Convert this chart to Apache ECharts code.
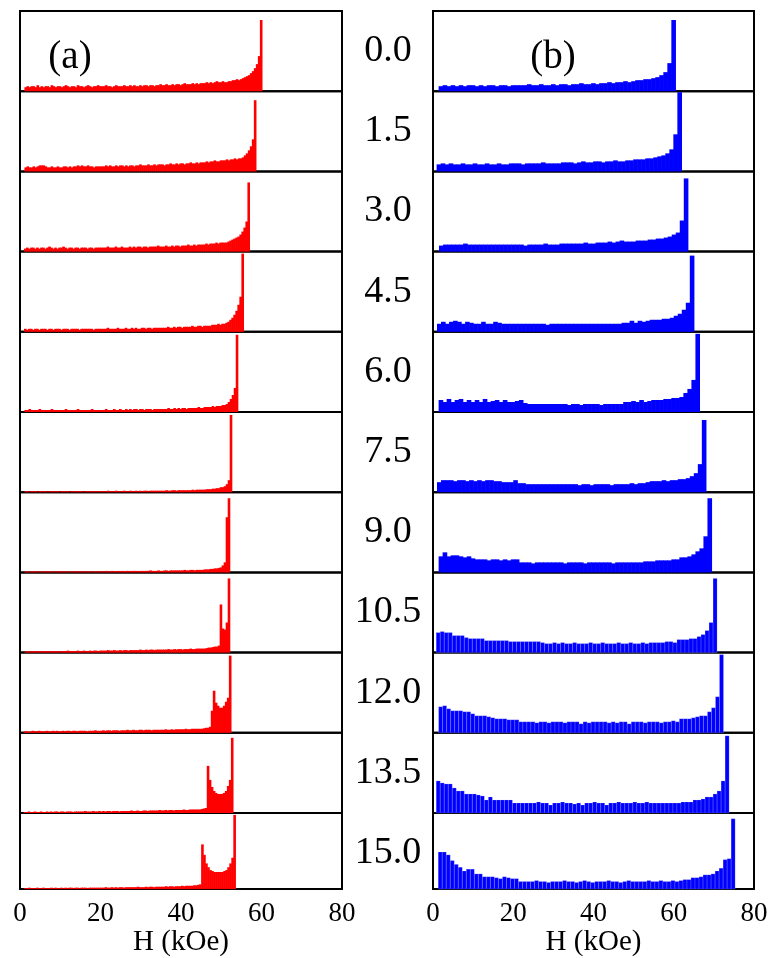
<!DOCTYPE html>
<html>
<head>
<meta charset="utf-8">
<script src="https://cdn.jsdelivr.net/npm/echarts@6.0.0/dist/echarts.min.js"></script>
<style>
  html, body { margin: 0; padding: 0; background: #fff; }
  #chart { width: 771px; height: 958px; }
</style>
</head>
<body>
<div id="chart"></div>
<script>
// field labels shown between the two columns
var fieldLabels = ['0.0', '1.5', '3.0', '4.5', '6.0', '7.5', '9.0', '10.5', '12.0', '13.5', '15.0'];
var xTicks = [0, 20, 40, 60, 80];

// histogram bin widths (kOe) and right edge of the last bin of every panel
var redBin = 0.5;
var blueBin = 1.0;
var redEdge = [60.1, 58.6, 57.0, 55.5, 54.1, 52.6, 52.1, 52.1, 52.4, 52.9, 53.5];
var blueEdge = [60.4, 61.9, 63.5, 65.0, 66.4, 68.0, 69.4, 70.8, 72.4, 73.8, 75.3];

// (a) red histograms, heights (panel full scale = 80)
var red00 = [4,5,4,5,5,4,6,4,5,4,5,5,4,6,5,4,5,5,4,5,6,5,4,5,5,4,6,5,5,4,5,6,5,4,5,5,6,5,
  5,5,6,5,5,4,5,6,5,5,5,6,5,5,6,5,6,5,5,6,5,6,6,5,6,6,5,6,6,7,
  6,6,7,6,6,7,6,7,7,6,7,8,7,7,7,8,7,8,7,8,
  8,8,9,8,9,8,9,10,9,9,10,9,9,10,
  10,11,11,12,11,12, 13,14,15,16, 18,20, 23,27, 35,71];
var red15 = [4,5,4,4,5,4,5,6,6,6,5,4,4,5,4,4,5,4,4,5,5,4,5,4,5,5,6,5,6,5,5,6,5,5,4,5,5,5,
  5,5,6,5,6,5,5,6,5,6,6,5,6,5,6,6,5,6,6,7,6,6,6,7,6,6,7,6,7,7,
  7,6,7,7,8,7,7,8,7,8,8,7,8,8,9,8,8,9,8,9,
  9,9,10,9,10,10,11,10,10,11,11,11,12,11,
  12,12,13,12,13,13, 14,16,18,21, 25,32, 71];
var red30 = [3,4,3,4,4,3,4,3,4,4,3,4,5,4,3,4,3,4,4,5,4,3,4,4,3,4,4,3,4,4,4,3,4,4,3,4,4,4,
  4,4,4,5,4,4,4,5,4,4,5,4,4,4,5,4,5,4,5,5,4,5,5,4,5,5,5,5,6,5,
  5,5,6,5,5,6,5,6,6,5,6,6,6,7,6,6,7,6,7,7,
  7,7,8,7,8,8,8,9,8,9,9,9,
  9,10,11,12,13,14, 15,17,20,24, 30, 69];
var red45 = [3,2,3,3,2,3,3,2,3,3,3,2,3,3,2,3,3,3,2,3,3,3,2,3,3,3,3,2,3,3,3,3,3,3,2,3,3,3,
  3,3,3,4,3,3,3,3,4,3,3,3,4,3,3,4,3,4,3,3,4,4,3,4,4,3,4,4,4,4,
  4,4,4,5,4,4,5,4,5,5,4,5,5,5,5,6,5,5,6,6,
  5,6,6,6,6,7,7,7,8,7,8,8,
  9,10,12,14, 17,21,27, 35, 78];
var red60 = [2,2,3,2,2,2,2,3,2,2,2,2,2,3,2,2,2,2,2,2,3,2,2,2,2,2,3,2,2,2,2,2,2,3,2,2,2,2,
  2,2,3,2,2,2,3,2,2,3,2,2,3,2,3,2,3,3,2,3,3,2,3,3,3,2,3,3,3,3,
  3,3,3,4,3,3,4,3,4,3,4,4,3,4,4,4,4,4,5,4,
  4,5,5,5,5,6,5,6,6,6,7,7,
  8,10,13,17, 24, 77];
var red75 = [1,1,0.5,1,1,1,0.5,1,1,1,1,0.5,1,1,1,1,1,0.5,1,1,1,1,0.5,1,1,1,1,1,1,0.5,1,1,1,1,1,1,1,1,
  1,1,1,1.5,1,1,1,1.5,1,1,1,1.5,1,1,1.5,1,1,1.5,1,1.5,1,1.5,1.5,1,1.5,1.5,1.5,1.5,1.5,1.5,
  1.5,1.5,2,1.5,1.5,2,2,1.5,2,2,2,2,2,2,2,2.5,2,2.5,2.5,2.5,
  2.5,2.5,3,3,3,3.5,3.5,4,4,5,5,6,
  8,12, 77];
var red90 = [1,1,0.5,1,1,1,1,0.5,1,1,1,1,1,1,0.5,1,1,1,1,1,1,1,0.5,1,1,1,1,1,1,1,1,1,1,0.5,1,1,1,1,
  1,1,1.5,1,1,1.5,1,1,1.5,1,1.5,1,1.5,1.5,1,1.5,1.5,1.5,1,1.5,1.5,1.5,1.5,1.5,2,1.5,1.5,1.5,2,1.5,
  1.5,2,2,1.5,2,2,2,2,2,2,2,2.5,2,2,2.5,2.5,2,2.5,2.5,2.5,
  2.5,3,3,3,3.5,3.5,4,4,4.5,5,
  7,10, 55, 74];
var red105 = [1,1.5,1,1.5,1.5,1,1.5,1.5,1,1.5,1.5,1.5,1,1.5,1.5,1.5,1.5,1,1.5,1.5,1.5,2,1.5,1.5,1.5,1.5,2,1.5,1.5,2,1.5,1.5,2,1.5,2,2,1.5,2,
  2,2,2,2.5,2,2,2.5,2,2,2.5,2,2.5,2.5,2,2.5,2.5,2.5,2.5,2.5,3,2.5,2.5,3,2.5,3,3,2.5,3,3,3,
  3,3,3,3.5,3,3,3.5,3,3.5,3.5,3,3.5,3.5,3.5,4,3.5,3.5,4,4,4,
  4,4,4.5,5,5,5.5,6,6,7,
  48, 24,23,30, 74];
var red120 = [1.5,1.5,1,1.5,2,1.5,1.5,2,1.5,1.5,1.5,2,1.5,1.5,2,1.5,2,1.5,1.5,2,1.5,2,2,1.5,2,2,1.5,2,2,2,2,1.5,2,2,2,2.5,2,2,
  2,2.5,2,2.5,2.5,2,2.5,2.5,2.5,2,2.5,2.5,2.5,3,2.5,2.5,3,2.5,2.5,3,3,2.5,3,3,3,2.5,3,3,3,3,
  3,3,3.5,3,3,3.5,3,3.5,3.5,3.5,3.5,3.5,4,3.5,3.5,4,4,4,4,4,
  4,4.5,5,5,6,
  22, 42, 30,27,25,25,27,31,35, 77];
var red135 = [1,1,1.5,1,1,1.5,1,1,1.5,1,1,1.5,1,1.5,1,1.5,1.5,1,1.5,1.5,1,1.5,1.5,1.5,1,1.5,1.5,1.5,1.5,1.5,2,1.5,1.5,1.5,2,1.5,1.5,2,
  1.5,2,1.5,2,2,1.5,2,2,2,1.5,2,2,2,2,2,2.5,2,2,2.5,2,2,2.5,2.5,2,2.5,2.5,2.5,2.5,2.5,3,
  2.5,2.5,3,2.5,3,3,2.5,3,3,3,3,3.5,3,3,3.5,3.5,3.5,3.5,3.5,3.5,
  4,4.5,5,
  47,33,26,22,20,19,19,19,20,22,27,33,75];
var red150 = [1,1,1.5,1,1,1,1.5,1,1,1.5,1,1,1,1.5,1,1.5,1,1,1.5,1,1.5,1,1.5,1.5,1,1.5,1.5,1,1.5,1.5,1.5,1,1.5,1.5,1.5,1.5,1.5,1.5,
  1.5,1.5,2,1.5,1.5,2,1.5,2,1.5,2,2,1.5,2,2,2,2,2,2,2.5,2,2,2,2.5,2,2.5,2.5,2,2.5,2.5,2.5,
  2.5,2.5,3,2.5,3,3,2.5,3,3,3,3.5,3,3.5,3.5,3.5,3.5,
  4,4,4.5,5,
  47,36,27,23,20,19,18,18,18,18,18,19,20,23,27,33,78];

// (b) blue histograms
var blue00 = [5,6,5,6,5,6,5,6,6,5, 6,5,6,6,5,6,6,5,6,6, 6,6,7,6,6,7,6,6,7,6,
  7,7,6,7,7,8,7,7,8,7, 8,8,9,8,9,9,10,9,10,11, 11,12,12,13,14,16,19, 28, 71];
var blue15 = [7,8,7,8,7,7,8,7,7,8, 7,7,8,7,7,8,7,7,8,8, 8,7,8,8,8,8,9,8,8,8,
  8,9,9,9,8,9,10,9,9,10, 10,9,10,10,11,10,10,11,11,12, 12,12,13,13,14,15,16,18, 22, 37, 79];
var blue30 = [6,7,7,7,7,7,8,7,7,7, 7,7,7,7,7,7,7,7,7,7, 7,6,7,7,7,7,8,7,7,7,
  8,8,8,8,8,8,9,8,8,9, 9,9,10,9,10,11,10,10,10,11, 11,11,12,12,13,13,14, 15,17,19,31,73];
var blue45 = [8,10,8,10,11,10,8,10,9,8, 8,10,8,8,10,9,8,8,8,8, 8,8,8,8,8,8,8,7,8,8,
  8,8,8,8,8,8,8,8,8,8, 8,8,8,8,8,8,9,9,11,9, 11,10,11,12,12,12,13,13, 14,16,18,22,29,76];
var blue60 = [12,10,13,10,12,13,10,12,10,12, 10,13,10,11,12,10,12,10,10,11, 12,9,8,8,8,8,8,8,8,8,
  8,8,7,8,8,7,8,8,8,8, 7,8,8,8,8,8,10,10,11,10, 12,10,11,12,12,12,13,13, 14,14,15,19,23,32,78];
var blue75 = [10,12,12,12,11,12,12,11,12,11, 12,11,12,12,11,11,10,10,10,12, 9,9,8,8,8,8,8,8,8,8,
  8,8,8,8,8,7,8,8,7,8, 8,8,8,7,8,8,8,8,9,8, 9,9,10,11,11,11,12,11, 12,12,13,13, 14,16,19,28,72];
var blue90 = [16,20,16,17,17,16,15,16,14,13, 13,13,12,13,13,12,13,12,13,13, 10,10,10,9,10,10,10,10,10,10,
  10,9,10,10,10,10,9,10,10,10, 10,10,10,9,10,10,10,10,10,10, 10,11,11,11,12,12,12,12,
  13,13,15,15, 16,18,21,24,36,74];
var blue105 = [20,21,20,20,17,17,17,15,14,14, 14,14,12,12,12,12,12,12,11,11, 11,11,11,11,11,11,10,9,9,10,
  9,10,9,9,10,9,9,9,10,9, 9,10,9,9,9,10,9,9,10,9, 9,10,9,10,10,10,10,11,11,10,
  13,13,13,14, 14,16,18,22,30,74];
var blue120 = [26,27,24,22,22,22,21,21,19,17, 17,17,16,15,14,14,14,13,13,13, 11,11,11,11,10,11,11,10,11,11,
  11,10,11,11,11,9,11,10,11,11, 11,11,10,11,10,11,11,9,11,11, 11,10,11,11,11,10,11,11,12,11,
  14,14,14,15, 16,17,17,21,25,36,78];
var blue135 = [32,30,29,29,25,22,22,19,19,19, 18,17,13,16,13,13,13,13,13,10, 10,10,10,10,10,11,10,10,8,10,
  10,11,10,10,9,10,8,10,10,11, 10,10,8,10,10,11,10,10,10,11, 10,10,11,10,10,10,10,10,10,10,
  10,11,11,11, 13,13,14,16,16,19,22,32,77];
var blue150 = [39,39,36,30,26,23,19,21,21,16, 16,13,13,13,12,11,13,12,11,11, 8,8,8,8,9,8,8,7,8,8,
  8,9,8,8,7,8,9,8,7,8, 8,8,9,8,8,7,8,9,8,8, 8,8,9,8,8,9,8,8,9,8,
  9,10,10,12, 12,13,15,15,16,19,22,31,32,74];

var redSets = [red00, red15, red30, red45, red60, red75, red90, red105, red120, red135, red150];
var blueSets = [blue00, blue15, blue30, blue45, blue60, blue75, blue90, blue105, blue120, blue135, blue150];

var chart = echarts.init(document.getElementById('chart'));

var panelTop = 11, panelH = 80.2;
var cols = [
  { left: 20, width: 322, sets: redSets, edges: redEdge, bin: redBin, color: '#ff0000', tag: '(a)', tagX: 70 },
  { left: 433, width: 321, sets: blueSets, edges: blueEdge, bin: blueBin, color: '#0000ff', tag: '(b)', tagX: 553 }
];
var serif = '"Liberation Serif", "DejaVu Serif", serif';

// turn a list of heights into [x0, x1, h] bins ending at the given edge
function toBins(heights, edge, width) {
  var start = edge - heights.length * width;
  return heights.map(function (h, i) {
    return [start + i * width, start + (i + 1) * width, h];
  });
}

function barRenderer(color, gaps) {
  return function (params, api) {
    var p0 = api.coord([api.value(0), 0]);
    var p1 = api.coord([api.value(1), api.value(2)]);
    var w = p1[0] - p0[0];
    if (gaps) {
      return {
        type: 'rect',
        shape: { x: p0[0], y: p1[1], width: w, height: p0[1] - p1[1] },
        style: { fill: color, stroke: 'rgba(255,255,255,0.45)', lineWidth: 0.35 }
      };
    }
    // small overlap so neighbouring bins merge into a solid fill
    return {
      type: 'rect',
      shape: { x: p0[0], y: p1[1], width: w + 0.6, height: p0[1] - p1[1] },
      style: { fill: color }
    };
  };
}

var grids = [], xAxes = [], yAxes = [], series = [], graphics = [];
cols.forEach(function (col, c) {
  col.sets.forEach(function (heights, k) {
    var idx = grids.length;
    var last = k === col.sets.length - 1;
    grids.push({
      left: col.left, top: panelTop + k * panelH, width: col.width, height: panelH,
      show: true, borderColor: '#000', borderWidth: 2, backgroundColor: 'transparent'
    });
    xAxes.push({
      gridIndex: idx, type: 'value', min: xTicks[0], max: xTicks[xTicks.length - 1], interval: 20,
      show: true,
      axisLine: { show: false }, axisTick: { show: false }, splitLine: { show: false },
      axisLabel: last ? { show: true, margin: 11, color: '#000', fontFamily: serif, fontSize: 27,
                          showMinLabel: true, showMaxLabel: true } : { show: false },
      name: last ? 'H (kOe)' : '', nameLocation: 'middle', nameGap: 38,
      nameTextStyle: { color: '#000', fontFamily: serif, fontSize: 29 }
    });
    yAxes.push({ gridIndex: idx, type: 'value', min: 0, max: 80, show: false });
    series.push({
      type: 'custom', xAxisIndex: idx, yAxisIndex: idx,
      renderItem: barRenderer(col.color, c === 1 && k >= 7),
      encode: { x: [0, 1], y: 2 },
      data: toBins(heights, col.edges[k], col.bin),
      silent: true
    });
  });
  graphics.push({
    type: 'text', x: col.tagX, y: 58,
    style: { text: col.tag, fill: '#000', font: '39px ' + serif, textAlign: 'center', textVerticalAlign: 'middle' }
  });
});

fieldLabels.forEach(function (lab, k) {
  graphics.push({
    type: 'text', x: 388, y: panelTop + k * panelH + panelH / 2,
    style: { text: lab, fill: '#000', font: '38px ' + serif, textAlign: 'center', textVerticalAlign: 'middle' }
  });
});

chart.setOption({
  animation: false,
  backgroundColor: '#fff',
  grid: grids,
  xAxis: xAxes,
  yAxis: yAxes,
  series: series,
  graphic: graphics
});
</script>
</body>
</html>
